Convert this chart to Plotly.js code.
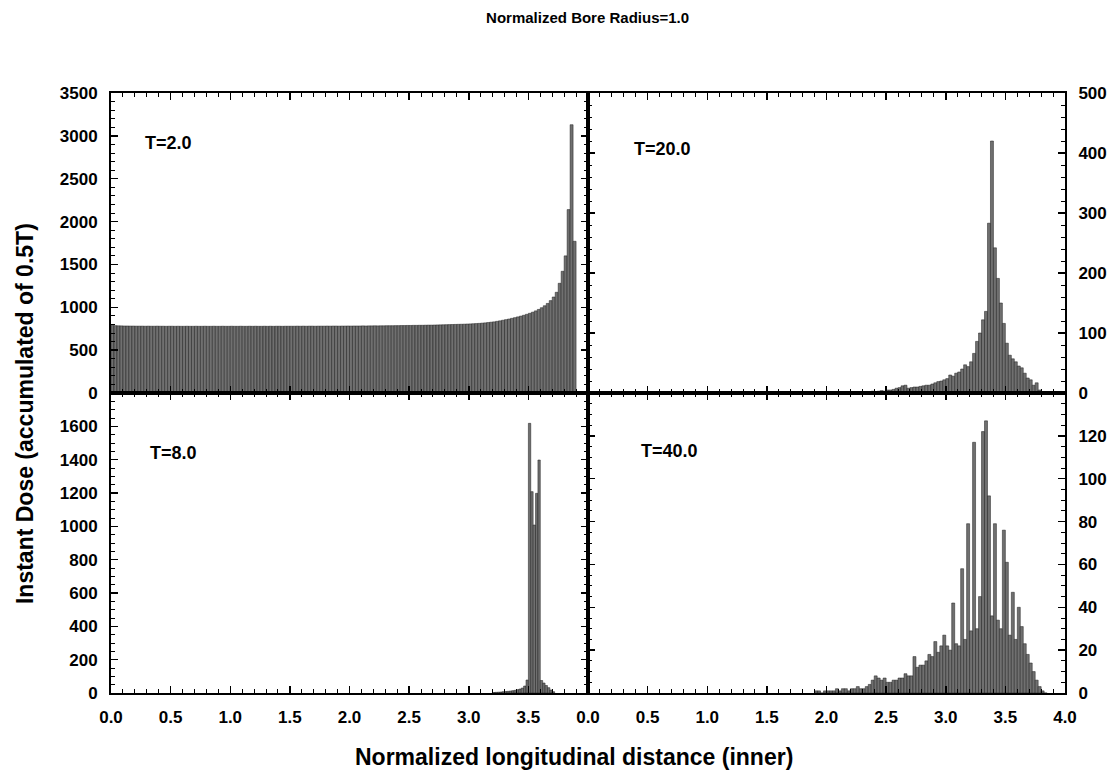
<!DOCTYPE html>
<html>
<head>
<meta charset="utf-8">
<script src="https://cdn.plot.ly/plotly-3.0.1.min.js"></script>
<style>html,body{margin:0;padding:0;background:#fff;}#chart{width:1115px;height:774px;}</style>
</head>
<body>
<div id="chart"></div>
<script>
// ---------------- DATA ----------------
const mainTitle = 'Normalized Bore Radius=1.0';
const xTitle = 'Normalized longitudinal distance (inner)';
const yTitle = 'Instant Dose (accumulated of 0.5T)';
const panelLabels = ['T=2.0', 'T=20.0', 'T=8.0', 'T=40.0'];

// histogram bins: start of first bin and bin width for each panel
const binStartT2 = 0.0,  binWidthT2 = 0.025;
const binStartT20 = 2.0, binWidthT20 = 0.025;
const binStartT8 = 3.2,  binWidthT8 = 0.02;
const binStartT40 = 1.9, binWidthT40 = 0.025;

// T=2.0 (top-left)
const doseT2 = [
  790, 786, 784, 783, 782, 782, 781, 781, 780, 780,
  780, 779, 780, 779, 779, 780, 779, 779, 778, 779,
  779, 778, 779, 778, 778, 779, 778, 778, 779, 778,
  778, 779, 778, 778, 779, 778, 778, 779, 778, 778,
  779, 778, 778, 779, 778, 778, 779, 778, 779, 778,
  778, 779, 778, 779, 778, 779, 779, 778, 779, 779,
  779, 779, 780, 779, 780, 779, 780, 780, 779, 780,
  780, 780, 781, 780, 781, 781, 780, 781, 781, 782,
  781, 782, 782, 782, 783, 782, 783, 783, 784, 783,
  784, 784, 785, 785, 785, 786, 786, 787, 787, 788,
  788, 789, 789, 790, 790, 791, 792, 792, 793, 794,
  795, 796, 797, 798, 799, 800, 801, 802, 803, 805,
  806, 808, 810, 812, 815, 818, 822, 826, 830, 836,
  842, 849, 856, 863, 871, 879, 888, 897, 907, 918,
  930, 943, 958, 975, 995, 1018, 1045, 1078, 1120, 1175,
  1280, 1420, 1600, 2140, 3130, 1770
];

// T=20.0 (top-right)
const doseT20 = [
  0, 0, 0, 1, 0, 1, 1, 0, 1, 1,
  1, 2, 1, 2, 2, 3, 2, 3, 4, 3,
  5, 5, 6, 8, 9, 12, 13, 8, 9, 10,
  10, 11, 12, 13, 13, 15, 17, 19, 20, 22,
  24, 30, 28, 33, 35, 40, 47, 44, 52, 66,
  86, 100, 122, 136, 283, 420, 242, 191, 150, 116,
  83, 63, 57, 52, 45, 42, 33, 25, 22, 13,
  17, 5, 2, 0
];

// T=8.0 (bottom-left)
const doseT8 = [
  3, 4, 5, 6, 8, 9, 10, 12, 14, 16,
  20, 24, 30, 42, 78, 1618, 1208, 1008, 1198, 1398,
  75, 60, 45, 32, 18, 8
];

// T=40.0 (bottom-right)
const doseT40 = [
  1, 1, 0, 1,
  1, 1, 1, 2,
  1, 2, 2, 1,
  2, 2, 3, 2,
  2, 3, 4, 6,
  8, 7, 6, 7,
  5, 5, 6, 6,
  7, 7, 9, 8,
  8, 17, 12, 13,
  13, 15, 18, 17,
  24, 19, 22, 27,
  22, 20, 42, 23,
  22, 58, 25, 79,
  29, 117, 30, 45,
  122, 127, 92, 36,
  79, 34, 30, 76,
  61, 27, 47, 25,
  40, 31, 23, 18,
  14, 10, 6, 3,
  1, 0
];

// tick labels
const xTickValsLeft = [0, 0.5, 1, 1.5, 2, 2.5, 3, 3.5, 4];
const xTickTextLeft = ['0.0', '0.5', '1.0', '1.5', '2.0', '2.5', '3.0', '3.5', ''];
const xTickValsRight = [0, 0.5, 1, 1.5, 2, 2.5, 3, 3.5, 4];
const xTickTextRight = ['0.0', '0.5', '1.0', '1.5', '2.0', '2.5', '3.0', '3.5', '4.0'];
const yTickValsT8 = [0, 200, 400, 600, 800, 1000, 1200, 1400, 1600, 1800];
const yTickTextT8 = ['0', '200', '400', '600', '800', '1000', '1200', '1400', '1600', ''];
const yTickValsT40 = [0, 20, 40, 60, 80, 100, 120, 140];
const yTickTextT40 = ['0', '20', '40', '60', '80', '100', '120', ''];

// ---------------- BUILD ----------------
function centres(start, width, n) {
  const out = [];
  for (let i = 0; i < n; i++) out.push(start + width * (i + 0.5));
  return out;
}
const barStyle = {color: '#707070', line: {color: '#1c1c1c', width: 0.5}};
function barTrace(start, width, vals, xa, ya) {
  return {type: 'bar', x: centres(start, width, vals.length), y: vals, width: width,
          xaxis: xa, yaxis: ya, marker: barStyle, hoverinfo: 'x+y'};
}
const traces = [
  barTrace(binStartT2, binWidthT2, doseT2, 'x', 'y'),
  barTrace(binStartT20, binWidthT20, doseT20, 'x2', 'y2'),
  barTrace(binStartT8, binWidthT8, doseT8, 'x3', 'y3'),
  barTrace(binStartT40, binWidthT40, doseT40, 'x4', 'y4')
];

const FONT = 'Liberation Sans, Arial, Helvetica, sans-serif';
const tickFont = {family: FONT, size: 17, color: '#000', weight: 'bold'};
function xAxis(domain, anchor, showLabels, vals, text) {
  return {
    domain: domain, anchor: anchor, range: [0, 4], fixedrange: true,
    showline: true, linecolor: '#000', linewidth: 2, mirror: 'ticks',
    ticks: 'inside', ticklen: 7, tickwidth: 1.5, tickcolor: '#000',
    tickmode: 'array', tickvals: vals, ticktext: text,
    showticklabels: showLabels, tickfont: tickFont, ticklabelstandoff: 8,
    minor: {ticks: 'inside', ticklen: 4, tickwidth: 1, tickcolor: '#000', tickmode: 'linear', tick0: 0, dtick: 0.1},
    showgrid: false, zeroline: false
  };
}
function yAxis(domain, anchor, side, range, extra) {
  return Object.assign({
    domain: domain, anchor: anchor, side: side, range: range, fixedrange: true,
    showline: true, linecolor: '#000', linewidth: 2, mirror: 'ticks',
    ticks: 'inside', ticklen: 7, tickwidth: 1.5, tickcolor: '#000',
    tickfont: tickFont, ticklabelstandoff: 8,
    showgrid: false, zeroline: false
  }, extra);
}

const layout = {
  width: 1115, height: 774,
  margin: {l: 111, r: 50, t: 93, b: 81},
  paper_bgcolor: '#fff', plot_bgcolor: '#fff',
  showlegend: false, bargap: 0, barmode: 'overlay',
  font: {family: FONT, color: '#000'},
  title: {text: mainTitle, xref: 'container', yref: 'container', x: 0.527, y: 0.977,
          xanchor: 'center', yanchor: 'middle', font: {family: FONT, size: 15, weight: 'bold', color: '#000'}},
  xaxis: xAxis([0, 0.5], 'y', false, xTickValsLeft, xTickTextLeft),
  xaxis2: xAxis([0.5, 1], 'y2', false, xTickValsRight, xTickTextRight),
  xaxis3: xAxis([0, 0.5], 'y3', true, xTickValsLeft, xTickTextLeft),
  xaxis4: xAxis([0.5, 1], 'y4', true, xTickValsRight, xTickTextRight),
  yaxis: yAxis([0.5, 1], 'x', 'left', [0, 3500], {tickmode: 'linear', tick0: 0, dtick: 500,
          minor: {ticks: 'inside', ticklen: 4, tickwidth: 1, tickcolor: '#000', tickmode: 'linear', tick0: 0, dtick: 100}}),
  yaxis2: yAxis([0.5, 1], 'x2', 'right', [0, 500], {tickmode: 'linear', tick0: 0, dtick: 100,
          minor: {ticks: 'inside', ticklen: 4, tickwidth: 1, tickcolor: '#000', tickmode: 'linear', tick0: 0, dtick: 20}}),
  yaxis3: yAxis([0, 0.5], 'x3', 'left', [0, 1800], {tickmode: 'array', tickvals: yTickValsT8, ticktext: yTickTextT8,
          minor: {ticks: 'inside', ticklen: 4, tickwidth: 1, tickcolor: '#000', tickmode: 'linear', tick0: 0, dtick: 50}}),
  yaxis4: yAxis([0, 0.5], 'x4', 'right', [0, 140], {tickmode: 'array', tickvals: yTickValsT40, ticktext: yTickTextT40,
          minor: {ticks: 'inside', ticklen: 4, tickwidth: 1, tickcolor: '#000', tickmode: 'linear', tick0: 0, dtick: 5}}),
  annotations: [
    {text: panelLabels[0], xref: 'x', yref: 'y', x: 0.27, y: 2915, xanchor: 'left', yanchor: 'middle', showarrow: false,
     font: {family: FONT, size: 18, weight: 'bold', color: '#000'}},
    {text: panelLabels[1], xref: 'x2', yref: 'y2', x: 0.37, y: 407, xanchor: 'left', yanchor: 'middle', showarrow: false,
     font: {family: FONT, size: 18, weight: 'bold', color: '#000'}},
    {text: panelLabels[2], xref: 'x3', yref: 'y3', x: 0.31, y: 1440, xanchor: 'left', yanchor: 'middle', showarrow: false,
     font: {family: FONT, size: 18, weight: 'bold', color: '#000'}},
    {text: panelLabels[3], xref: 'x4', yref: 'y4', x: 0.43, y: 113, xanchor: 'left', yanchor: 'middle', showarrow: false,
     font: {family: FONT, size: 18, weight: 'bold', color: '#000'}},
    {text: xTitle, xref: 'paper', yref: 'paper', x: 0.4853, y: -0.1067, xanchor: 'center', yanchor: 'middle', showarrow: false,
     font: {family: FONT, size: 23, weight: 'bold', color: '#000'}},
    {text: yTitle, xref: 'paper', yref: 'paper', x: -0.0901, y: 0.465, xanchor: 'center', yanchor: 'middle', showarrow: false,
     textangle: -90, font: {family: FONT, size: 23, weight: 'bold', color: '#000'}}
  ]
};

Plotly.newPlot('chart', traces, layout, {displayModeBar: false, staticPlot: true});
</script>
</body>
</html>
